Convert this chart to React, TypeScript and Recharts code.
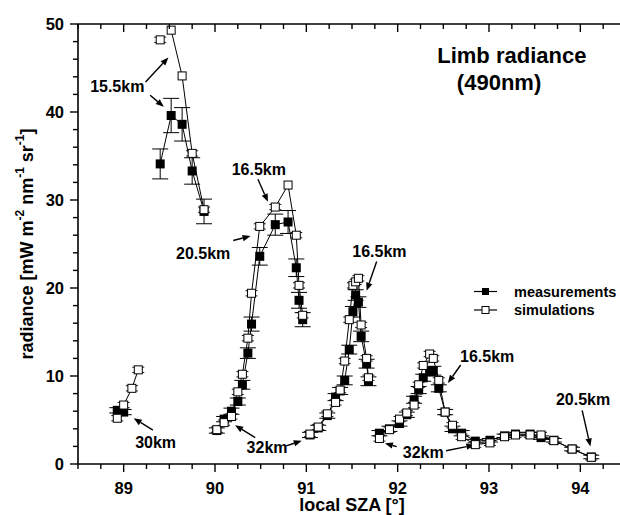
import React from 'react';
import {
  ComposedChart,
  Scatter,
  XAxis,
  YAxis,
  ErrorBar,
  ReferenceLine,
  ReferenceDot,
  Legend,
} from 'recharts';

const FONT = '"Liberation Sans", Arial, Helvetica, sans-serif';

type Pt = { x: number; y: number; e: number | null };
const pts = (rows: (number | null)[][]): Pt[] =>
  rows.map(([x, y, e]) => ({ x: x as number, y: y as number, e: e ?? null }));

// Measured limb radiance: [local SZA (deg), radiance, 1-sigma error]
const meas30km = pts([[88.93, 6.1, 0.3], [89.0, 5.9, 0.3]]);
const meas155 = pts([
  [89.4, 34.1, 1.7], [89.52, 39.6, 1.95], [89.64, 38.6, 1.9], [89.75, 33.3, 1.5], [89.88, 28.7, 1.4],
]);
const measScan2 = pts([
  [90.02, 3.8, 0.3], [90.1, 5.1, 0.3], [90.18, 6.0, 0.35], [90.25, 7.1, 0.4], [90.3, 9.0, 0.5],
  [90.36, 12.6, 0.6], [90.4, 15.9, 0.8], [90.49, 23.6, 1.0], [90.66, 27.2, 1.2], [90.8, 27.5, 1.3],
  [90.89, 22.3, 1.0], [90.92, 18.6, 0.9], [90.96, 16.4, 0.8],
]);
const measScan3 = pts([
  [91.04, 3.3, 0.3], [91.13, 4.1, 0.3], [91.23, 5.5, 0.3], [91.32, 7.6, 0.4], [91.37, 8.3, 0.4],
  [91.42, 9.5, 0.5], [91.47, 13.0, 0.5], [91.51, 17.3, 0.6], [91.54, 19.2, 0.6], [91.57, 18.4, 0.6],
  [91.6, 14.5, 0.6], [91.66, 11.4, 0.5], [91.68, 9.4, 0.5],
]);
const measScan4 = pts([
  [91.8, 3.5, 0.3], [91.91, 4.0, 0.3], [92.02, 4.6, 0.3], [92.1, 5.6, 0.3], [92.18, 7.3, 0.4],
  [92.23, 8.4, 0.4], [92.28, 9.8, 0.4], [92.35, 10.5, 0.5], [92.39, 10.6, 0.5], [92.45, 8.6, 0.4],
  [92.52, 5.9, 0.3], [92.6, 4.0, 0.3], [92.7, 3.5, 0.3], [92.85, 2.6, 0.2], [93.01, 2.7, 0.2],
  [93.17, 3.2, 0.2], [93.29, 3.4, 0.2], [93.45, 3.4, 0.2], [93.57, 3.0, 0.2], [93.71, 2.7, 0.2],
  [93.91, 1.7, 0.2], [94.12, 0.8, 0.2],
]);

// Simulated limb radiance: [local SZA (deg), radiance, model error]
const sim30km = pts([[88.93, 5.2, 0.3], [89.0, 6.7, 0.3], [89.09, 8.6, 0.3], [89.16, 10.7, 0.3]]);
const simSingle = pts([[89.4, 48.2, 0.3]]);
const sim155 = pts([[89.52, 49.3, null], [89.64, 44.1, null], [89.75, 35.3, 0.3], [89.88, 28.9, 0.3]]);
const simScan2 = pts([
  [90.02, 3.9, 0.3], [90.1, 4.7, 0.3], [90.18, 5.4, 0.3], [90.25, 8.2, 0.3], [90.3, 10.2, 0.3],
  [90.36, 14.3, 0.3], [90.4, 19.4, 0.3], [90.49, 27.0, 0.3], [90.66, 29.2, 0.3], [90.8, 31.7, null],
  [90.89, 26.0, 0.3], [90.92, 20.3, 0.3], [90.96, 16.9, 0.3],
]);
const simScan3 = pts([
  [91.04, 3.4, 0.3], [91.13, 4.2, 0.3], [91.23, 5.7, 0.3], [91.32, 7.0, 0.3], [91.37, 8.4, 0.3],
  [91.42, 11.7, 0.3], [91.47, 16.4, 0.3], [91.51, 20.3, 0.3], [91.54, 20.7, 0.3], [91.57, 21.1, 0.3],
  [91.6, 15.8, 0.3], [91.66, 12.0, 0.3], [91.68, 9.8, 0.3],
]);
const simScan4 = pts([
  [91.8, 2.9, 0.3], [91.91, 3.9, 0.3], [92.02, 5.1, 0.3], [92.1, 5.8, 0.3], [92.18, 6.7, 0.3],
  [92.23, 9.0, 0.3], [92.28, 11.2, 0.3], [92.35, 12.5, 0.3], [92.39, 12.0, 0.3], [92.45, 9.5, 0.3],
  [92.52, 5.9, 0.3], [92.6, 4.4, 0.3], [92.7, 3.1, 0.3], [92.85, 2.2, 0.3], [93.01, 2.4, 0.3],
  [93.17, 3.1, 0.3], [93.29, 3.3, 0.3], [93.45, 3.3, 0.3], [93.57, 3.3, 0.3], [93.71, 2.65, 0.3],
  [93.91, 1.7, 0.3], [94.12, 0.76, 0.3],
]);

const measSegments = [meas30km, meas155, measScan2, measScan3, measScan4];
const simSegments = [sim30km, simSingle, sim155, simScan2, simScan3, simScan4];
const simLinked = [true, false, true, true, true, true];

// Tangent-height annotations: label centre and arrows (start -> tip), in data units
const labels = [
  { text: '15.5km', x: 88.93, y: 42.9 },
  { text: '16.5km', x: 90.48, y: 33.5 },
  { text: '20.5km', x: 89.87, y: 23.9 },
  { text: '16.5km', x: 91.8, y: 24.2 },
  { text: '16.5km', x: 92.98, y: 12.2 },
  { text: '20.5km', x: 94.03, y: 7.3 },
  { text: '32km', x: 90.57, y: 1.9 },
  { text: '32km', x: 92.28, y: 1.3 },
  { text: '30km', x: 89.35, y: 2.5 },
];
const arrows = [
  [89.24, 43.4, 89.49, 46.2],
  [89.29, 41.9, 89.44, 40.6],
  [90.47, 32.35, 90.58, 29.8],
  [90.2, 25.4, 90.39, 25.9],
  [91.77, 23.0, 91.66, 19.7],
  [92.69, 11.25, 92.55, 9.2],
  [94.02, 6.1, 94.11, 2.0],
  [92.53, 1.5, 92.84, 2.16],
  [91.99, 1.97, 91.86, 2.35],
  [90.44, 3.0, 90.22, 4.4],
  [90.78, 2.05, 90.95, 2.65],
  [89.32, 3.86, 89.11, 5.2],
];

const xTicks: number[] = [];
for (let i = 0; i <= 24; i++) xTicks.push(88.5 + i * 0.25);
const yTicks: number[] = [];
for (let i = 0; i <= 25; i++) yTicks.push(i * 2);
const isMajorX = (v: number) => Math.abs(v - Math.round(v)) < 1e-6;
const isMajorY = (v: number) => Math.abs(v % 10) < 1e-6;

const MeasMark = (p: any) => (
  <rect x={p.cx - 4.5} y={p.cy - 4.5} width={9} height={9} fill="#000" />
);
const SimMark = (p: any) => (
  <rect x={p.cx - 4} y={p.cy - 4} width={8} height={8} fill="#fff" stroke="#000" strokeWidth={1} />
);
const NoMark = () => <g />;

const BottomTick = (p: any) => {
  const v = p.payload.value;
  const major = isMajorX(v);
  return (
    <g>
      <line x1={p.x} x2={p.x} y1={p.y} y2={p.y + (major ? 8 : 5)} stroke="#000" strokeWidth={1.4} />
      {major && (
        <text x={p.x} y={p.y + 30} textAnchor="middle" fontFamily={FONT} fontWeight="bold" fontSize={16.5} fill="#000">
          {v}
        </text>
      )}
    </g>
  );
};

const TopTick = (p: any) => {
  const major = isMajorX(p.payload.value);
  return <line x1={p.x} x2={p.x} y1={p.y} y2={p.y + (major ? 8 : 5)} stroke="#000" strokeWidth={1.4} />;
};

const LeftTick = (p: any) => {
  const v = p.payload.value;
  const major = isMajorY(v);
  return (
    <g>
      <line x1={p.x} x2={p.x - (major ? 8 : 5)} y1={p.y} y2={p.y} stroke="#000" strokeWidth={1.4} />
      {major && (
        <text x={p.x - 14} y={p.y} dy="0.36em" textAnchor="end" fontFamily={FONT} fontWeight="bold" fontSize={16.5} fill="#000">
          {v}
        </text>
      )}
    </g>
  );
};

const YTitle = (p: any) => {
  const vb = p.viewBox;
  const cx = 27;
  const cy = vb.y + vb.height / 2;
  return (
    <text
      x={cx}
      y={cy}
      transform={`rotate(-90, ${cx}, ${cy})`}
      textAnchor="middle"
      dominantBaseline="central"
      fontFamily={FONT}
      fontWeight="bold"
      fontSize={18}
      fill="#000"
    >
      <tspan>radiance [mW m</tspan>
      <tspan dy={-7} fontSize={12}>-2</tspan>
      <tspan dy={7}> nm</tspan>
      <tspan dy={-7} fontSize={12}>-1</tspan>
      <tspan dy={7}> sr</tspan>
      <tspan dy={-7} fontSize={12}>-1</tspan>
      <tspan dy={7}>]</tspan>
    </text>
  );
};

const XTitle = (p: any) => {
  const vb = p.viewBox;
  return (
    <text x={vb.x + vb.width / 2} y={511} textAnchor="middle" fontFamily={FONT} fontWeight="bold" fontSize={18} fill="#000">
      local SZA [°]
    </text>
  );
};

const Arrow = (p: any) => {
  const { x1, y1, x2, y2 } = p;
  const a = Math.atan2(y2 - y1, x2 - x1);
  const L = 8;
  const W = 3.2;
  const bx = x2 - L * Math.cos(a);
  const by = y2 - L * Math.sin(a);
  const px = -Math.sin(a) * W;
  const py = Math.cos(a) * W;
  return (
    <g>
      <line x1={x1} y1={y1} x2={bx} y2={by} stroke="#000" strokeWidth={1.4} />
      <polygon points={`${x2},${y2} ${bx + px},${by + py} ${bx - px},${by - py}`} fill="#000" />
    </g>
  );
};

const makeText = (text: string, size: number) => (p: any) => (
  <text x={p.cx} y={p.cy} dy="0.35em" textAnchor="middle" fontFamily={FONT} fontWeight="bold" fontSize={size} fill="#000">
    {text}
  </text>
);

const LegendBox = () => (
  <svg width={150} height={40} style={{ display: 'block' }}>
    <line x1={4} x2={27} y1={11.5} y2={11.5} stroke="#000" strokeWidth={1.2} />
    <rect x={12} y={8} width={7} height={7} fill="#000" />
    <text x={44} y={16.5} fontFamily={FONT} fontWeight="bold" fontSize={14.5} fill="#000">measurements</text>
    <line x1={4} x2={27} y1={30} y2={30} stroke="#000" strokeWidth={1.2} />
    <rect x={12} y={26.5} width={7} height={7} fill="#fff" stroke="#000" strokeWidth={1} />
    <text x={44} y={35} fontFamily={FONT} fontWeight="bold" fontSize={14.5} fill="#000">simulations</text>
  </svg>
);

export default function App() {
  return (
    <div style={{ position: 'absolute', left: 0, top: 0, width: 620, height: 515, overflow: 'hidden', background: '#fff' }}>
      <ComposedChart width={640} height={515} margin={{ top: 20, right: 14, bottom: 0, left: 0 }}>
        <XAxis
          xAxisId="bottom"
          dataKey="x"
          type="number"
          domain={[88.5, 94.5]}
          ticks={xTicks}
          interval={0}
          allowDataOverflow
          height={51}
          tickSize={0}
          tickMargin={0}
          tick={<BottomTick />}
          axisLine={{ stroke: '#000', strokeWidth: 1.6 }}
          tickLine={false}
          label={<XTitle />}
        />
        <XAxis
          xAxisId="top"
          orientation="top"
          dataKey="x"
          type="number"
          domain={[88.5, 94.5]}
          ticks={xTicks}
          interval={0}
          allowDataOverflow
          height={4}
          tickSize={0}
          tickMargin={0}
          tick={<TopTick />}
          axisLine={{ stroke: '#000', strokeWidth: 1.6 }}
          tickLine={false}
        />
        <YAxis
          yAxisId="left"
          dataKey="y"
          type="number"
          domain={[0, 50]}
          ticks={yTicks}
          interval={0}
          allowDataOverflow
          width={78}
          tickSize={0}
          tickMargin={0}
          tick={<LeftTick />}
          axisLine={{ stroke: '#000', strokeWidth: 1.6 }}
          tickLine={false}
          label={<YTitle />}
        />

        {measSegments.map((seg, i) => (
          <Scatter
            key={`m${i}`}
            xAxisId="bottom"
            yAxisId="left"
            data={seg}
            fill="#000"
            line={{ stroke: '#000', strokeWidth: 1 }}
            lineJointType="linear"
            shape={MeasMark}
            isAnimationActive={false}
            legendType="none"
          >
            <ErrorBar dataKey="e" direction="y" width={8} stroke="#000" strokeWidth={1} />
          </Scatter>
        ))}

        {simSegments.map((seg, i) => (
          <Scatter
            key={`s${i}`}
            xAxisId="bottom"
            yAxisId="left"
            data={seg}
            fill="#fff"
            line={simLinked[i] ? { stroke: '#000', strokeWidth: 1 } : false}
            lineJointType="linear"
            shape={SimMark}
            isAnimationActive={false}
            legendType="none"
          />
        ))}

        {simSegments.map((seg, i) => (
          <Scatter
            key={`se${i}`}
            xAxisId="bottom"
            yAxisId="left"
            data={seg.filter((p) => p.e != null)}
            shape={NoMark}
            isAnimationActive={false}
            legendType="none"
          >
            <ErrorBar dataKey="e" direction="y" width={6} stroke="#000" strokeWidth={0.9} />
          </Scatter>
        ))}

        {arrows.map(([xa, ya, xb, yb], i) => (
          <ReferenceLine
            key={`a${i}`}
            xAxisId="bottom"
            yAxisId="left"
            segment={[{ x: xa, y: ya }, { x: xb, y: yb }]}
            shape={Arrow}
            ifOverflow="visible"
          />
        ))}

        {labels.map((l, i) => (
          <ReferenceDot
            key={`l${i}`}
            xAxisId="bottom"
            yAxisId="left"
            x={l.x}
            y={l.y}
            r={0}
            shape={makeText(l.text, 16)}
            ifOverflow="visible"
          />
        ))}

        <ReferenceDot xAxisId="bottom" yAxisId="left" x={93.25} y={46.4} r={0} shape={makeText('Limb radiance', 22)} ifOverflow="visible" />
        <ReferenceDot xAxisId="bottom" yAxisId="left" x={93.11} y={43.4} r={0} shape={makeText('(490nm)', 22)} ifOverflow="visible" />

        <Legend
          layout="vertical"
          align="center"
          verticalAlign="middle"
          content={() => <LegendBox />}
          wrapperStyle={{ left: 470, top: 280, width: 150, height: 40 }}
        />
      </ComposedChart>
    </div>
  );
}
